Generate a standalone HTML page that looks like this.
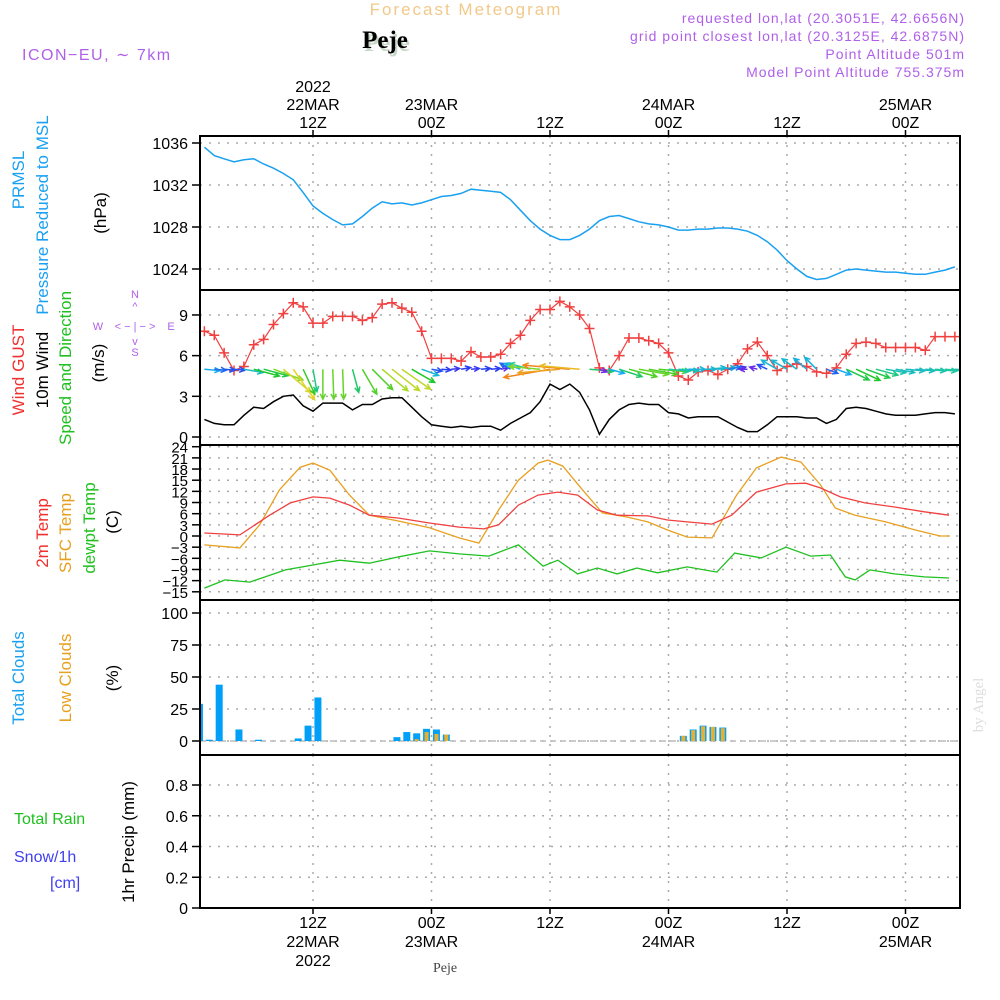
<!DOCTYPE html>
<html><head><meta charset="utf-8"><style>
html,body{margin:0;padding:0;background:#fff;}
svg{display:block;font-family:"Liberation Sans",sans-serif;}
.rot{font-size:17px;}
</style></head><body>
<svg id="chart" width="1000" height="1000" viewBox="0 0 1000 1000" xmlns="http://www.w3.org/2000/svg">
<defs><clipPath id="pc"><rect x="200" y="136" width="760" height="772"/></clipPath></defs>
<g id="titles">
<text x="466" y="15" text-anchor="middle" font-size="17" fill="#f2c98a" letter-spacing="2">Forecast Meteogram</text>
<text x="387" y="51" text-anchor="middle" font-size="25" font-weight="bold" font-family="Liberation Serif,serif" fill="#c8d8c8">Peje</text>
<text x="385" y="48" text-anchor="middle" font-size="25" font-weight="bold" font-family="Liberation Serif,serif" fill="#000">Peje</text>
<text x="22" y="60" font-size="16" fill="#b060e8" letter-spacing="1.5">ICON−EU, ∼ 7km</text>
<text x="965" y="23" text-anchor="end" font-size="14" fill="#b060e8" letter-spacing="1">requested lon,lat (20.3051E, 42.6656N)</text>
<text x="965" y="41" text-anchor="end" font-size="14" fill="#b060e8" letter-spacing="1">grid point closest lon,lat (20.3125E, 42.6875N)</text>
<text x="965" y="59" text-anchor="end" font-size="14" fill="#b060e8" letter-spacing="1">Point Altitude 501m</text>
<text x="965" y="77" text-anchor="end" font-size="14" fill="#b060e8" letter-spacing="1">Model Point Altitude 755.375m</text>
<text x="445" y="972" text-anchor="middle" font-size="14" font-family="Liberation Serif,serif" fill="#444">Peje</text>
<text transform="translate(983,705) rotate(-90)" text-anchor="middle" font-size="15" font-family="Liberation Serif,serif" fill="#ddd">by Angel</text>
</g>
<g id="leftlabels" class="rot">
<text transform="translate(24,180) rotate(-90)" text-anchor="middle" fill="#1aa0f0">PRMSL</text>
<text transform="translate(48,215) rotate(-90)" text-anchor="middle" fill="#1aa0f0">Pressure Reduced to MSL</text>
<text transform="translate(106,213) rotate(-90)" text-anchor="middle" fill="#000">(hPa)</text>
<text transform="translate(24,370) rotate(-90)" text-anchor="middle" fill="#f03030">Wind GUST</text>
<text transform="translate(48,370) rotate(-90)" text-anchor="middle" fill="#000">10m Wind</text>
<text transform="translate(71,368) rotate(-90)" text-anchor="middle" fill="#20c020">Speed and Direction</text>
<text transform="translate(104,363) rotate(-90)" text-anchor="middle" fill="#000">(m/s)</text>
<text transform="translate(48,533) rotate(-90)" text-anchor="middle" fill="#f03030">2m Temp</text>
<text transform="translate(71,533) rotate(-90)" text-anchor="middle" fill="#e8a020">SFC Temp</text>
<text transform="translate(95,528) rotate(-90)" text-anchor="middle" fill="#20c020">dewpt Temp</text>
<text transform="translate(118,522) rotate(-90)" text-anchor="middle" fill="#000">(C)</text>
<text transform="translate(24,678) rotate(-90)" text-anchor="middle" fill="#1aa0f0">Total Clouds</text>
<text transform="translate(71,678) rotate(-90)" text-anchor="middle" fill="#e8a020">Low Clouds</text>
<text transform="translate(118,678) rotate(-90)" text-anchor="middle" fill="#000">(%)</text>
<text x="14" y="824" fill="#20c020" font-size="16">Total  Rain</text>
<text x="14" y="862" fill="#4040f0" font-size="16">Snow/1h</text>
<text x="50" y="888" fill="#4040f0" font-size="16">[cm]</text>
<text transform="translate(134,842) rotate(-90)" text-anchor="middle" fill="#000">1hr Precip (mm)</text>
<g fill="#b060e8" font-size="11">
<text x="135" y="298" text-anchor="middle">N</text><text x="135" y="310" text-anchor="middle">^</text>
<text x="135" y="330" text-anchor="middle">&lt; − | − &gt;</text>
<text x="98" y="330" text-anchor="middle">W</text><text x="171" y="330" text-anchor="middle">E</text>
<text x="135" y="345" text-anchor="middle">v</text><text x="135" y="356" text-anchor="middle">S</text>
</g>
</g>
<g id="plot"></g>
</svg>
<script>
// ---------- data ----------
const timeTickHours = [12,24,36,48,60,72];
const timeTickHour = ["12Z","00Z","12Z","00Z","12Z","00Z"];
const timeTickDate = ["22MAR","23MAR","","24MAR","","25MAR"];
const timeTickYear = ["2022","","","","",""];
const pressure = [1035.6,1034.8,1034.5,1034.2,1034.4,1034.5,1034.0,1033.6,1033.1,1032.5,1031.3,1030.0,1029.3,1028.7,1028.2,1028.3,1029.0,1029.8,1030.4,1030.2,1030.3,1030.1,1030.3,1030.6,1030.9,1031.0,1031.2,1031.6,1031.5,1031.4,1031.3,1030.6,1029.6,1028.6,1027.8,1027.2,1026.8,1026.8,1027.2,1027.8,1028.6,1029.0,1029.1,1028.8,1028.5,1028.3,1028.2,1028.0,1027.7,1027.7,1027.8,1027.8,1027.9,1027.9,1027.8,1027.6,1027.2,1026.6,1025.8,1024.8,1024.0,1023.3,1023.0,1023.1,1023.5,1023.9,1024.0,1023.9,1023.8,1023.7,1023.7,1023.6,1023.5,1023.5,1023.7,1023.9,1024.2];
const pressureTicks = [1024,1028,1032,1036];
const gust = [7.8,7.5,6.2,4.9,5.2,6.8,7.2,8.3,9.1,9.9,9.6,8.4,8.4,8.9,8.9,8.9,8.6,8.8,9.8,9.9,9.5,9.2,7.8,5.8,5.8,5.8,5.6,6.3,5.9,5.9,6.1,6.9,7.5,8.6,9.4,9.4,10.0,9.6,9.0,8.0,5.1,4.9,6.0,7.3,7.3,7.1,6.9,6.2,4.5,4.2,4.8,4.9,4.6,5.0,5.4,6.5,7.0,6.0,4.9,5.2,5.4,5.2,4.8,4.7,5.1,6.1,6.9,7.0,6.9,6.6,6.6,6.6,6.6,6.4,7.4,7.4,7.4];
const windSpeed = [1.3,1.0,0.9,0.9,1.6,2.2,2.1,2.6,3.0,3.1,2.3,1.9,2.5,2.5,2.5,2.0,2.4,2.4,2.8,2.9,2.9,2.2,1.5,0.9,0.8,0.7,0.8,0.7,0.8,0.8,0.5,1.0,1.4,1.8,2.6,3.9,3.5,3.9,3.3,2.0,0.2,1.3,2.0,2.4,2.5,2.4,2.4,1.8,1.7,1.4,1.5,1.5,1.5,1.1,0.7,0.4,0.4,0.9,1.5,1.5,1.5,1.4,1.4,1.0,1.3,2.1,2.2,2.1,1.9,1.7,1.6,1.6,1.6,1.7,1.8,1.8,1.7];
const windDir = [95,95,95,95,100,105,105,110,130,145,155,170,180,178,178,165,150,135,130,128,125,120,110,100,95,85,80,85,85,85,80,300,290,285,275,260,265,275,275,95,110,105,108,105,100,100,95,95,95,90,90,85,85,80,75,270,285,295,300,300,305,310,315,110,110,115,115,110,105,100,100,95,95,95,95,95,95];
const windTicks = [0,3,6,9];
const t2mHours = [1,4.6,7.6,9.7,12,13.7,15.7,17.7,20.7,23.8,26.8,29.3,30.8,32.8,34.8,36.8,38.8,40.8,42.8,45.9,47.9,49.9,52.4,54.4,56.9,59.9,61.9,63.4,65.4,67.9,70.9,73.9,76.4];
const t2m = [0.8,0.3,5.6,8.9,10.5,10.2,8.3,5.6,4.8,3.5,2.4,1.9,3.0,8.3,11.0,11.8,11.0,7.0,5.6,5.4,4.3,3.8,3.2,5.6,11.8,14.0,14.2,12.9,10.5,8.9,7.8,6.5,5.6];
const sfcHours = [1,4.6,6.6,8.6,10.7,12,13.7,15.7,17.7,20.7,23.8,26.8,28.8,30.8,32.8,34.8,35.8,37.3,39.3,41.3,43.8,45.9,47.9,49.9,52.4,54.9,56.9,59.4,61.4,63.4,64.9,66.9,70,73,75.5,76.5];
const sfcTemp = [-2.4,-3.2,3.0,12.4,18.5,19.6,17.7,11.0,5.6,4.0,2.2,-0.5,-1.9,7.0,15.0,19.6,20.4,18.8,12.4,6.2,5.1,3.8,1.6,-0.3,-0.5,11.0,18.3,21.2,19.9,13.7,7.5,5.6,3.8,1.6,0.0,0.0];
const dewHours = [1,3.1,5.6,9.2,12,14.7,17.7,20.7,23.8,26.8,29.8,32.8,35.3,36.8,38.8,40.8,42.8,44.8,46.9,49.9,52.9,54.7,57.4,59.9,62.4,64.4,65.9,66.9,68.4,70.9,73.9,76.4];
const dewpt = [-14.0,-11.8,-12.4,-9.1,-7.8,-6.5,-7.3,-5.6,-4.0,-4.8,-5.4,-2.4,-8.1,-6.5,-10.2,-8.6,-10.2,-8.6,-9.9,-8.3,-9.7,-4.6,-5.9,-3.0,-5.4,-5.1,-11.0,-11.8,-9.1,-10.2,-11.0,-11.3];
const tempTicks = [-15,-12,-9,-6,-3,0,3,6,9,12,15,18,21,24];
const tempTickLabels = ["−15","−12","−9","−6","−3","0","3","6","9","12","15","18","21","24"];
const totalClouds = [29,1,44,0,9,0,1,0,0,0,2,12,34,0,0,0,0,0,0,0,3,7,6,9.5,9,5,0,0,0,0,0,0,0,0,0,0,0,0,0,0,0,0,0,0,0,0,0,0,0,4,9,12,11,10.5,0,0,0,0,0,0,0,0,0,0,0,0,0,0,0,0,0,0,0,0,0,0,0];
const lowClouds = [0,0,0,0,0,0,0,0,0,0,0,0,0,0,0,0,0,0,0,0,0,0,1.5,7,5.5,5,0,0,0,0,0,0,0,0,0,0,0,0,0,0,0,0,0,0,0,0,0,0,0,4,8.5,11.5,11,10,0,0,0,0,0,0,0,0,0,0,0,0,0,0,0,0,0,0,0,0,0,0,0];
const cloudTicks = [0,25,50,75,100];
const precip = new Array(77).fill(0);
const precipTicks = [0,0.2,0.4,0.6,0.8];

// ---------- axes ----------
const X0=200,X1=960;
const xh = h => 313 + (h-12)*9.875;
const yP = p => 269-(p-1024)*10.5;
const yW = v => 437-v*13.56;
const yT = t => 536-t*3.72;
const yC = c => 741-c*1.28;
const yR = r => 908-r*153.75;
const panels=[[136,290],[290,445],[445,600],[600,755],[755,908]];
const NS="http://www.w3.org/2000/svg";
const root=document.getElementById('plot');
const clipG=document.createElementNS(NS,'g');
clipG.setAttribute('clip-path','url(#pc)');
let plot=clipG;
function mk(tag,attrs,parent){const e=document.createElementNS(NS,tag);for(const k in attrs)e.setAttribute(k,attrs[k]);(parent||plot).appendChild(e);return e;}
function txt(x,y,s,attrs){const e=mk('text',Object.assign({x:x,y:y},attrs||{}),root);e.textContent=s;return e;}
root.appendChild(clipG);

panels.forEach((p,i)=>{
  timeTickHours.forEach(h=>{
    const l=mk('line',{x1:xh(h),x2:xh(h),y1:p[0],y2:p[1],stroke:'#aaa','stroke-dasharray':'2,7','stroke-width':1.5});
    
    
  });
});
function yAxis(ticks,labels,fy,fs){
  ticks.forEach((t,i)=>{
    const y=fy(t);
    const g=mk('line',{x1:X0,x2:X1,y1:y,y2:y,stroke:'#aaa','stroke-dasharray':'2,7','stroke-width':1.5});
    
    
    mk('line',{x1:X0-8,x2:X0,y1:y,y2:y,stroke:'#000','stroke-width':1.5},root);
    const t2=txt(188,y+6,labels[i],{'text-anchor':'end','font-size':fs||16,fill:'#000'});
    
    
  });
}
yAxis(pressureTicks,pressureTicks.map(String),yP);
yAxis(windTicks,windTicks.map(String),yW);
yAxis(tempTicks,tempTickLabels,yT,15);
yAxis(cloudTicks,cloudTicks.map(String),yC);
yAxis(precipTicks,["0","0.2","0.4","0.6","0.8"],yR);

function line(hours,vals,fy,color,name,w){
  const d=vals.map((v,i)=>(i?'L':'M')+xh(hours[i]).toFixed(1)+','+fy(v).toFixed(1)).join('');
  const p=mk('path',{d:d,fill:'none',stroke:color,'stroke-width':w||1.3});
  
  
  return p;
}
const hrs=pressure.map((_,i)=>i+1);
line(hrs,pressure,yP,'#1aa0f0','pressure-line',1.5);
line(hrs,windSpeed,yW,'#000','wind-speed-line',1.5);
line(hrs,gust,yW,'#f04040','gust-line',1.2);
gust.forEach((v,i)=>{
  const x=xh(i+1),y=yW(v);
  const m=mk('path',{d:`M${x-5},${y}h10M${x},${y-5}v10`,stroke:'#f04040','stroke-width':1.5});
  
  
});
function spdColor(s){
  const stops=[[0.3,[120,40,230]],[0.8,[40,60,240]],[1.3,[20,170,240]],[1.8,[30,200,160]],[2.2,[30,200,40]],[2.7,[150,220,40]],[3.1,[230,210,40]],[3.6,[240,150,30]],[4.5,[240,100,20]]];
  if(s<=stops[0][0])return 'rgb('+stops[0][1]+')';
  for(let i=1;i<stops.length;i++){if(s<=stops[i][0]){const a=stops[i-1],b=stops[i];const f=(s-a[0])/(b[0]-a[0]);return 'rgb('+a[1].map((c,k)=>Math.round(c+(b[1][k]-c)*f))+')';}}
  return 'rgb('+stops[stops.length-1][1]+')';
}
windDir.forEach((dir,i)=>{
  const s=windSpeed[i],x=xh(i+1),y=yW(5);
  const L=Math.max(8,s*12),r=dir*Math.PI/180;
  const ex=x+L*Math.sin(r),ey=y-L*Math.cos(r);
  const back=r+Math.PI,hl=6;
  const a1x=ex+hl*Math.sin(back+0.45),a1y=ey-hl*Math.cos(back+0.45);
  const a2x=ex+hl*Math.sin(back-0.45),a2y=ey-hl*Math.cos(back-0.45);
  const c=spdColor(s);
  const a=mk('path',{d:`M${x},${y}L${ex},${ey}M${a1x},${a1y}L${ex},${ey}L${a2x},${a2y}`,fill:'none',stroke:c,'stroke-width':1.5});
  
  
});
line(sfcHours,sfcTemp,yT,'#e8a020','sfc-temp-line',1.3);
line(t2mHours,t2m,yT,'#f04040','temp-2m-line',1.3);
line(dewHours,dewpt,yT,'#20c020','dewpt-line',1.3);
mk('line',{x1:X0,x2:X1,y1:741,y2:741,stroke:'#bbb','stroke-dasharray':'6,4','stroke-width':1.5});
totalClouds.forEach((v,i)=>{
  const cx=xh(i+0.5);
  if(v>0){const b=mk('rect',{x:cx-3.5,y:yC(v),width:7,height:741-yC(v),fill:'#00a0f8'});
  
  }
  const lv=lowClouds[i];
  if(lv>0){const b2=mk('rect',{x:cx-2,y:yC(lv),width:4,height:741-yC(lv),fill:'#e8b030'});
  
  }
});
line(hrs,precip,yR,'#555','precip-line',1.5).setAttribute('stroke-dasharray','6,3');

plot=root;
panels.forEach(p=>{
  const r=mk('rect',{x:X0,y:p[0],width:X1-X0,height:p[1]-p[0],fill:'none',stroke:'#000','stroke-width':2});
  
  
});
timeTickHours.forEach((h,i)=>{
  const x=xh(h);
  const lines=[timeTickYear[i],timeTickDate[i],timeTickHour[i]].filter(s=>s);
  lines.forEach((s,k)=>{const t=txt(x,128-(lines.length-1-k)*18,s,{'text-anchor':'middle','font-size':16,fill:'#000'});
    
    });
  [timeTickHour[i],timeTickDate[i],timeTickYear[i]].forEach((s,k)=>{if(!s)return;const t=txt(x,928+k*19,s,{'text-anchor':'middle','font-size':16,fill:'#000'});
    
    });
  mk('line',{x1:x,x2:x,y1:908,y2:914,stroke:'#000','stroke-width':1.5});
  mk('line',{x1:x,x2:x,y1:130,y2:136,stroke:'#000','stroke-width':1.5});
});
</script>
</body></html>
